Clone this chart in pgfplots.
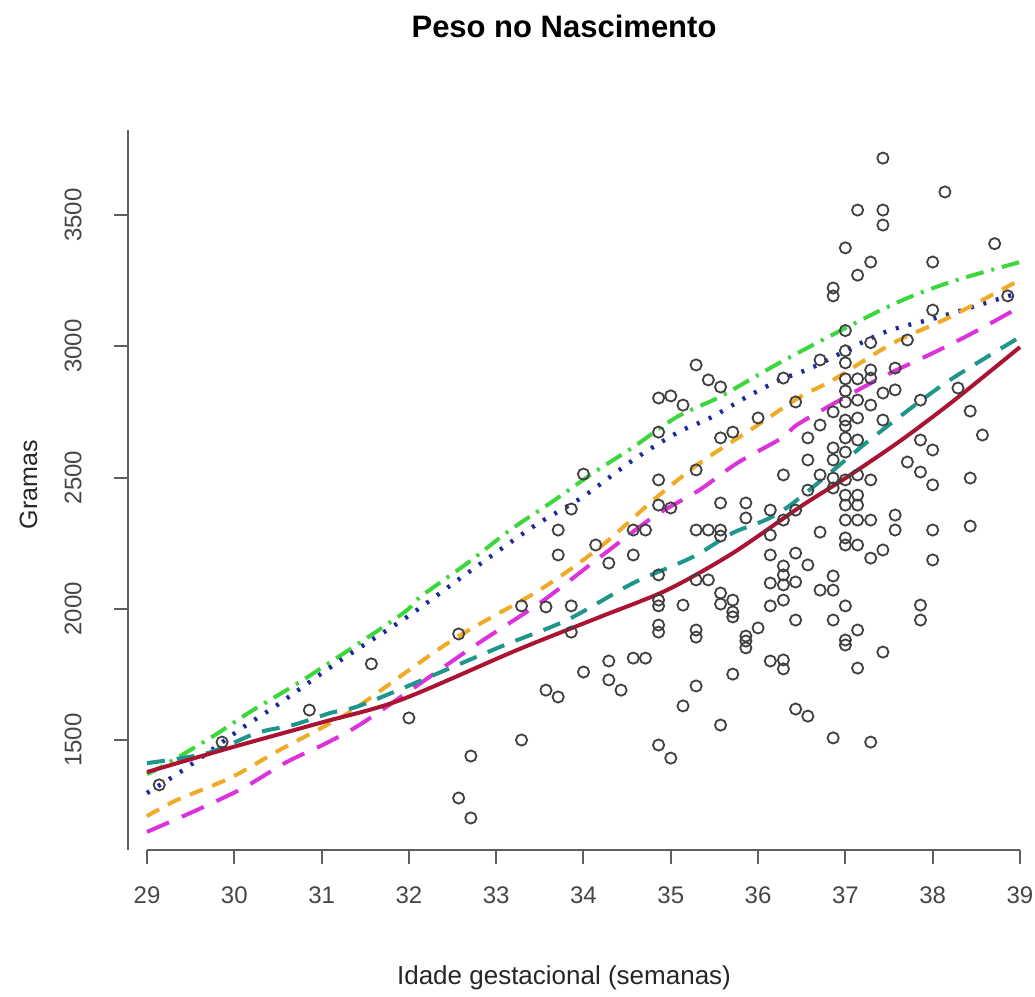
\documentclass[border=0pt]{standalone}
\usepackage{pgfplots}
\pgfplotsset{compat=1.18}
\usepackage{fontspec}
\setmainfont{Liberation Sans}
\definecolor{axgray}{RGB}{95,95,95}
\definecolor{txtgray}{RGB}{70,70,70}
\definecolor{cgreen}{RGB}{60,215,60}
\definecolor{cblue}{RGB}{30,40,160}
\definecolor{corange}{RGB}{240,170,40}
\definecolor{cmag}{RGB}{220,50,220}
\definecolor{cteal}{RGB}{30,150,140}
\definecolor{cred}{RGB}{170,20,50}
\pgfplotstableread{
x y
29.14 1329
29.86 1492
30.86 1614
31.57 1790
32.00 1584
32.57 1904
32.57 1279
32.71 1439
32.71 1203
33.29 2011
33.29 1500
33.57 2007
33.57 1690
33.71 2205
33.71 1664
33.71 2300
33.86 2380
33.86 1911
33.86 2011
34.00 2513
34.00 1759
34.14 2243
34.29 2174
34.29 1801
34.29 1729
34.43 1690
34.57 2300
34.57 2205
34.57 1812
34.71 1812
34.71 2300
34.86 2803
34.86 2673
34.86 2491
34.86 2395
34.86 2129
34.86 2033
34.86 2011
34.86 1938
34.86 1911
34.86 1481
35.00 2811
35.00 2384
35.00 1431
35.14 2776
35.14 2014
35.14 1630
35.29 2929
35.29 2529
35.29 2300
35.29 2110
35.29 1919
35.29 1892
35.29 1706
35.43 2872
35.43 2300
35.43 2110
35.57 2845
35.57 2651
35.57 2403
35.57 2300
35.57 2277
35.57 2060
35.57 2018
35.57 1557
35.71 2673
35.71 2033
35.71 1988
35.71 1969
35.71 1751
35.86 2403
35.86 2346
35.86 1896
35.86 1877
35.86 1851
36.00 2727
36.00 1927
36.14 2376
36.14 2281
36.14 2205
36.14 2098
36.14 2011
36.14 1801
36.29 2879
36.29 2510
36.29 2338
36.29 2163
36.29 2129
36.29 2091
36.29 2033
36.29 1805
36.29 1771
36.43 2788
36.43 2376
36.43 2212
36.43 2102
36.43 1957
36.43 1618
36.57 2651
36.57 2567
36.57 2452
36.57 2167
36.57 1591
36.71 2948
36.71 2700
36.71 2510
36.71 2292
36.71 2071
36.86 3222
36.86 3192
36.86 2750
36.86 2613
36.86 2567
36.86 2498
36.86 2460
36.86 2125
36.86 2071
36.86 1957
36.86 1508
37.00 3375
37.00 3060
37.00 2983
37.00 2937
37.00 2876
37.00 2830
37.00 2788
37.00 2719
37.00 2696
37.00 2651
37.00 2597
37.00 2491
37.00 2433
37.00 2395
37.00 2338
37.00 2270
37.00 2243
37.00 2011
37.00 1881
37.00 1862
37.14 3519
37.14 3271
37.14 2876
37.14 2795
37.14 2727
37.14 2643
37.14 2510
37.14 2433
37.14 2395
37.14 2338
37.14 2243
37.14 1919
37.14 1774
37.29 3321
37.29 3014
37.29 2910
37.29 2879
37.29 2776
37.29 2491
37.29 2338
37.29 2193
37.29 1492
37.43 3717
37.43 3519
37.43 3462
37.43 2822
37.43 2719
37.43 2224
37.43 1835
37.57 2917
37.57 2834
37.57 2357
37.57 2300
37.71 3024
37.71 2559
37.86 2795
37.86 2643
37.86 2521
37.86 2014
37.86 1957
38.00 3321
38.00 3138
38.00 2605
38.00 2472
38.00 2300
38.00 2186
38.14 3588
38.29 2841
38.43 2753
38.43 2498
38.43 2315
38.57 2662
38.71 3391
38.86 3192
}\pontos
\begin{document}
\begin{tikzpicture}
\begin{axis}[
  width=449pt, height=360pt, scale only axis,
  xmin=28.7824, xmax=39.0687, ymin=1081, ymax=3824,
  clip=false,
  axis x line*=bottom, axis y line*=left,
  x axis line style={draw=none}, y axis line style={draw=none},
  xtick={29,30,...,39}, ytick={1500,2000,2500,3000,3500},
  tick align=outside, major tick length=7pt,
  tick style={axgray, line width=1pt},
  scaled y ticks=false,
  /pgf/number format/.cd, 1000 sep={}, assume math mode=true,
  /pgfplots/.cd,
  ticklabel style={font=\fontsize{12}{14}\selectfont, text=txtgray},
  xticklabel style={anchor=north, inner sep=0pt},
  yticklabel style={rotate=90, anchor=south, inner sep=0pt},
  xticklabel shift=11pt, yticklabel shift=16pt,
]
\path (axis cs:27.316,547.5) rectangle (axis cs:39.172,4319.4);
\draw[axgray, line width=1pt] (axis cs:29,1081) -- (axis cs:39,1081);
\draw[axgray, line width=1pt] (axis cs:28.7824,1081) -- (axis cs:28.7824,3824);

\addplot[only marks, mark=o, mark size=2.8pt, mark options={line width=0.9pt, draw=black!75}] table {\pontos};

% green dash-dot
\addplot[cgreen, line width=2pt, smooth, dash pattern=on 9pt off 4pt on 1.5pt off 4pt] coordinates {
(29.0,1370) (29.23,1410) (29.76,1515) (30.18,1607) (30.84,1740) (31.9,1975) (32.13,2045) (32.67,2174) (33.16,2300) (33.62,2403) (34.11,2517) (34.57,2616) (35.07,2731) (35.56,2807) (36.1,2910) (36.48,2979) (37.25,3112) (37.74,3188) (38.28,3253) (39.0,3321)};
% blue dotted
\addplot[cblue, line width=2.2pt, smooth, dash pattern=on 1.5pt off 5pt] coordinates {
(29.0,1298) (29.38,1378) (29.74,1462) (30.09,1546) (30.49,1633) (31.2,1800) (31.98,1969) (32.67,2136) (33.42,2312) (33.99,2426) (34.57,2567) (35.07,2670) (35.45,2727) (35.87,2807) (36.25,2872) (36.63,2921) (37.43,3051) (38.08,3112) (39.0,3205)};
% orange dashed
\addplot[corange, line width=2pt, smooth, dash pattern=on 7pt off 5pt] coordinates {
(29.0,1210) (29.34,1271) (29.95,1355) (30.52,1462) (31.06,1557) (31.41,1626) (32.5,1881) (33.5,2072) (34.19,2235) (34.8,2414) (35.33,2555) (35.91,2681) (36.48,2807) (36.86,2872) (37.55,3013) (38.2,3112) (39.0,3253)};
% magenta long dash
\addplot[cmag, line width=2pt, smooth, dash pattern=on 12pt off 7pt] coordinates {
(29.0,1150) (29.57,1233) (30.1,1317) (30.6,1416) (31.06,1489) (31.52,1576) (32.73,1854) (33.5,2022) (34.19,2197) (34.8,2350) (35.33,2453) (35.76,2555) (36.29,2654) (36.48,2708) (37.36,2872) (38.0,2974) (38.46,3051) (39.0,3150)};
% teal dashed
\addplot[cteal, line width=2pt, smooth, dash pattern=on 9pt off 6pt] coordinates {
(29.0,1412) (29.69,1450) (30.26,1527) (30.67,1557) (31.1,1603) (31.52,1641) (33.04,1854) (33.81,1957) (34.57,2098) (35.25,2197) (35.71,2289) (36.29,2376) (37.32,2654) (38.08,2845) (38.62,2959) (39.0,3035)};
% red solid
\addplot[cred, line width=2pt, smooth] coordinates {
(29.0,1378) (29.95,1470) (30.98,1565) (31.9,1652) (33.24,1843) (34.19,1969) (34.96,2072) (35.71,2212) (36.48,2388) (37.02,2502) (37.63,2640) (38.23,2790) (39.0,2997)};

\node[anchor=base, font=\bfseries\fontsize{15.5}{18}\selectfont] at (axis cs:33.777,4175) {Peso no Nascimento};
\node[anchor=base, font=\fontsize{13}{16}\selectfont, text=black!85] at (axis cs:33.777,567) {Idade gestacional (semanas)};
\node[anchor=base, rotate=90, font=\fontsize{12.5}{15}\selectfont, text=black!85] at (axis cs:27.74,2472) {Gramas};
\end{axis}
\end{tikzpicture}
\end{document}
